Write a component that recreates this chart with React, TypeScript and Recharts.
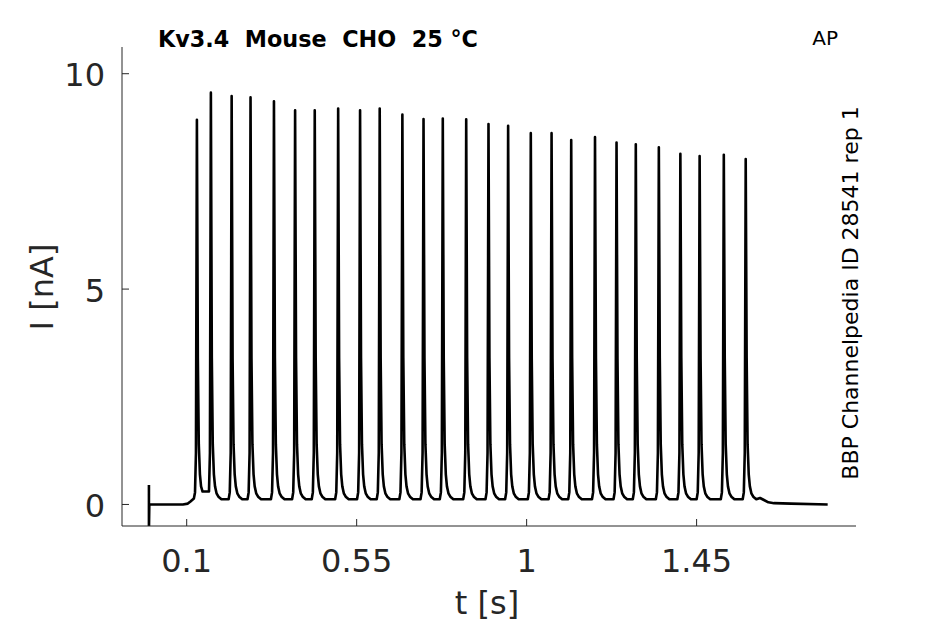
import React from "react"
import { LineChart, Line, XAxis, YAxis } from "recharts"

// peak times (s) and peak currents (nA) of the AP-evoked spikes
const spikeTimes = [
    0.127, 0.164, 0.219, 0.269, 0.331, 0.387, 0.439, 0.501, 0.559, 0.611,
    0.671, 0.727, 0.778, 0.840, 0.899, 0.951, 1.011, 1.066, 1.118, 1.181,
    1.238, 1.289, 1.350, 1.407, 1.458, 1.522, 1.580,
]
const spikePeaks = [
    8.93, 9.56, 9.48, 9.45, 9.36, 9.15, 9.15, 9.19, 9.15, 9.19,
    9.05, 8.95, 8.96, 8.94, 8.83, 8.79, 8.62, 8.62, 8.46, 8.53,
    8.40, 8.36, 8.29, 8.14, 8.09, 8.12, 8.02,
]
// current level reached between a spike and the next one
const troughAfter = [
    0.30, 0.12, 0.12, 0.12, 0.12, 0.12, 0.12, 0.12, 0.12, 0.12,
    0.12, 0.12, 0.12, 0.12, 0.12, 0.12, 0.12, 0.12, 0.12, 0.12,
    0.12, 0.12, 0.12, 0.12, 0.12, 0.12, 0.12,
]
// spike flanks: [offset from peak (s), current (nA)]
const riseShape = [[-0.005, 0.28], [-0.0025, 1.2]]
const fallShape = [[0.0025, 3.4], [0.005, 1.4], [0.008, 0.7], [0.011, 0.42], [0.015, 0.26], [0.02, 0.18]]

// before the first spike (incl. the artefact at t = 0) and after the last one
const preTrace = [[0, 0.45], [0, -0.6], [0.001, 0], [0.09, 0], [0.103, 0.02], [0.11, 0.07]]
const postTrace = [[1.618, 0.15], [1.627, 0.11], [1.64, 0.05], [1.655, 0.03], [1.7, 0.02], [1.797, 0.0]]

const xTicks = [0.1, 0.55, 1, 1.45]
const yTicks = [0, 5, 10]

const trace: { t: number; I: number }[] = []
preTrace.forEach(([t, I]) => trace.push({ t, I }))
spikeTimes.forEach((tp, i) => {
    const before = i === 0 ? 0.14 : troughAfter[i - 1]
    const after = troughAfter[i]
    trace.push({ t: tp - 0.008, I: before })
    riseShape.forEach(([dt, v]) => trace.push({ t: tp + dt, I: Math.max(v, before) }))
    trace.push({ t: tp, I: spikePeaks[i] })
    fallShape.forEach(([dt, v]) => trace.push({ t: tp + dt, I: Math.max(v, after) }))
    trace.push({ t: tp + 0.028, I: after })
})
postTrace.forEach(([t, I]) => trace.push({ t, I }))

const axisColor = "#262626"
const font = "DejaVu Sans"

const XTick = (props: any) => {
    const { x, y, payload } = props
    return (
        <g>
            <line x1={x} y1={y} x2={x} y2={y - 7} stroke={axisColor} strokeWidth={1} />
            <text x={x} y={y + 46} textAnchor="middle" fill={axisColor} fontSize={32} fontFamily={font}>
                {payload.value}
            </text>
        </g>
    )
}

const YTick = (props: any) => {
    const { x, y, payload } = props
    return (
        <g>
            <line x1={x} y1={y} x2={x + 7} y2={y} stroke={axisColor} strokeWidth={1} />
            <text x={x - 17} y={y + 12.5} textAnchor="end" fill={axisColor} fontSize={32} fontFamily={font}>
                {payload.value}
            </text>
        </g>
    )
}

export default function App() {
    return (
        <div style={{ position: "absolute", left: 0, top: 0, width: 945, height: 624, background: "#fff" }}>
            <LineChart
                width={945}
                height={624}
                data={trace}
                margin={{ top: 47, right: 89, bottom: 0, left: 0 }}
            >
                <XAxis
                    type="number"
                    dataKey="t"
                    domain={[-0.0713, 1.872]}
                    ticks={xTicks}
                    interval={0}
                    height={98}
                    tickSize={0}
                    tickMargin={0}
                    tick={<XTick />}
                    stroke={axisColor}
                    allowDataOverflow
                />
                <YAxis
                    type="number"
                    dataKey="I"
                    domain={[-0.5, 10.62]}
                    ticks={yTicks}
                    interval={0}
                    width={122}
                    tickSize={0}
                    tickMargin={0}
                    tick={<YTick />}
                    stroke={axisColor}
                    allowDataOverflow
                />
                <Line
                    type="linear"
                    dataKey="I"
                    stroke="#000"
                    strokeWidth={2.6}
                    strokeLinejoin="round"
                    dot={false}
                    activeDot={false}
                    isAnimationActive={false}
                />
            </LineChart>

            {/* labels drawn over the chart */}
            <svg width={945} height={624} style={{ position: "absolute", left: 0, top: 0, pointerEvents: "none" }}>
                <text x={158} y={47} fontSize={22.3} fontWeight="bold" fontFamily={font} fill="#000" style={{ whiteSpace: "pre" }}>
                    {"Kv3.4  Mouse  CHO  25 °C"}
                </text>
                <text x={838} y={45} textAnchor="end" fontSize={20} fontFamily={font} fill="#000">
                    AP
                </text>
                <text transform="translate(858 293) rotate(-90)" textAnchor="middle" fontSize={22} fontFamily={font} fill="#000">
                    BBP Channelpedia ID 28541 rep 1
                </text>
                <text x={487} y={614} textAnchor="middle" fontSize={32} fontFamily={font} fill={axisColor}>
                    t [s]
                </text>
                <text transform="translate(53 287) rotate(-90)" textAnchor="middle" fontSize={32} fontFamily={font} fill={axisColor}>
                    I [nA]
                </text>
            </svg>
        </div>
    )
}
